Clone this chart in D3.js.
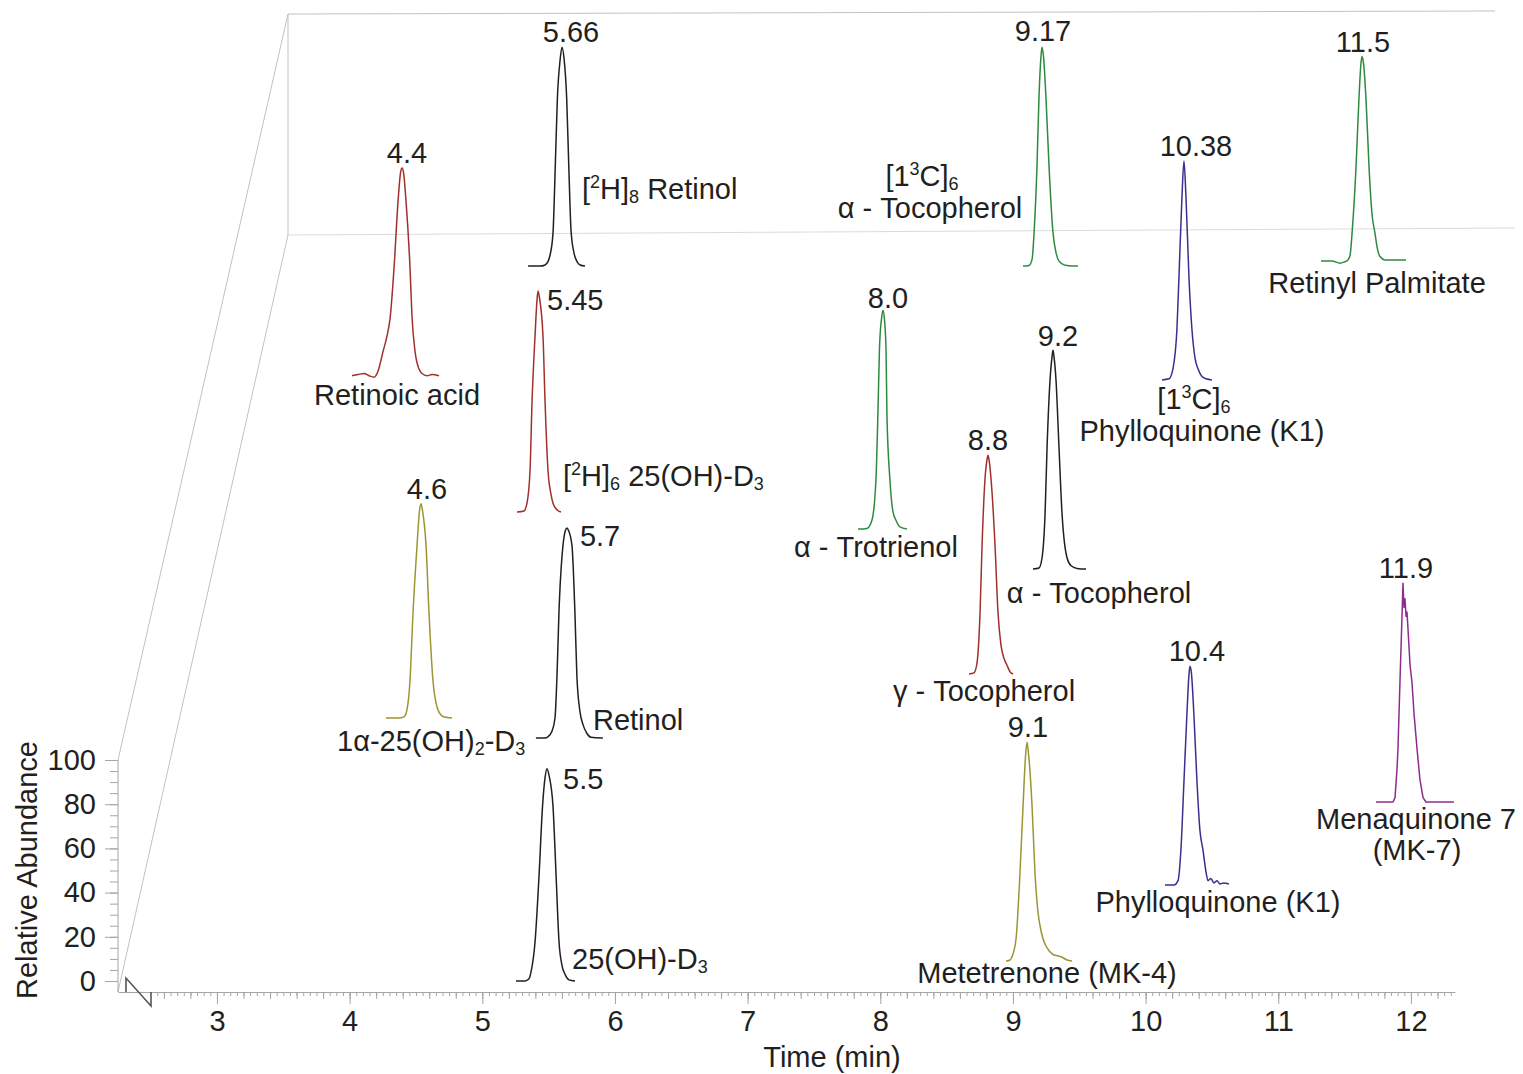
<!DOCTYPE html>
<html>
<head>
<meta charset="utf-8">
<script src="https://cdn.jsdelivr.net/npm/d3@7"></script>
<style>
  body { margin: 0; background: #fff; }
  svg { display: block; font-family: "Liberation Sans", Arial, sans-serif; }
</style>
</head>
<body>
<svg id="chart" width="1523" height="1074"></svg>
<script>
// compound names, ^x = superscript char, _x = subscript char
const compoundNames = [
    ["[^2H]_8 Retinol"],
    ["Retinoic acid"],
    ["[1^3C]_6", "α - Tocopherol"],
    ["[1^3C]_6", "Phylloquinone (K1)"],
    ["Retinyl Palmitate"],
    ["[^2H]_6 25(OH)-D_3"],
    ["1α-25(OH)_2-D_3"],
    ["Retinol"],
    ["25(OH)-D_3"],
    ["α - Trotrienol"],
    ["α - Tocopherol"],
    ["γ - Tocopherol"],
    ["Metetrenone (MK-4)"],
    ["Phylloquinone (K1)"],
    ["Menaquinone 7", "(MK-7)"]
];

const retentionLabels = ["5.66", "4.4", "9.17", "10.38", "11.5", "5.45", "4.6", "5.7",
    "5.5", "8.0", "9.2", "8.8", "9.1", "10.4", "11.9"];

// time on the axis where each trace apex is drawn
const traceTimes = [5.601, 4.395, 9.219, 10.289, 11.631, 5.420, 4.538, 5.638,
    5.488, 8.020, 9.302, 8.812, 9.106, 10.334, 11.940];

// stacking offset of each trace baseline (abundance units)
const baselineOffsets = [323.5, 272.9, 323.5, 272.0, 325.3, 212.2, 119.0, 110.0,
    0, 204.5, 186.4, 138.9, 9.0, 43.4, 81.0];

// peak profiles: [minutes from apex, relative abundance]
const peakProfiles = [
    [[-0.256, 0], [-0.166, 0], [-0.128, 0.5], [-0.106, 2], [-0.090, 5], [-0.068, 15], [-0.051, 45],
     [-0.035, 76], [-0.015, 93], [0, 99], [0.015, 94], [0.035, 76], [0.051, 45], [0.068, 16],
     [0.090, 6], [0.113, 2], [0.136, 0.5], [0.173, 0]],
    [[-0.377, 1], [-0.332, 1.5], [-0.286, 2], [-0.249, 1], [-0.211, 0.3], [-0.181, 3], [-0.143, 12],
     [-0.113, 19], [-0.090, 27], [-0.060, 50], [-0.030, 80], [-0.011, 93], [0, 95], [0.011, 93],
     [0.030, 80], [0.060, 50], [0.075, 28], [0.098, 12], [0.128, 4], [0.151, 2], [0.188, 1],
     [0.226, 1.5], [0.279, 1]],
    [[-0.143, 0], [-0.098, 0.3], [-0.075, 3], [-0.060, 15], [-0.038, 45], [-0.023, 76], [-0.0075, 95],
     [0, 99], [0.011, 95], [0.030, 76], [0.053, 45], [0.083, 15], [0.106, 6], [0.121, 3],
     [0.151, 1], [0.188, 0.3], [0.271, 0]],
    [[-0.166, 0], [-0.113, 0.5], [-0.083, 5], [-0.053, 23], [-0.038, 46], [-0.015, 83], [0, 99],
     [0.015, 83], [0.038, 46], [0.060, 23], [0.083, 10], [0.106, 5], [0.136, 1.5], [0.166, 0.5],
     [0.211, 0]],
    [[-0.309, 0.5], [-0.226, 0.5], [-0.166, -0.5], [-0.136, 0], [-0.106, 1], [-0.090, 3], [-0.075, 13],
     [-0.045, 43], [-0.023, 74], [-0.0075, 90], [0, 93], [0.011, 90], [0.030, 74], [0.053, 43],
     [0.075, 22], [0.098, 13], [0.113, 7], [0.136, 2.5], [0.173, 1], [0.226, 1], [0.332, 1]],
    [[-0.158, 0], [-0.106, 0.5], [-0.083, 4], [-0.060, 19], [-0.045, 50], [-0.023, 79], [-0.0075, 96],
     [0, 100], [0.011, 97], [0.038, 79], [0.053, 50], [0.075, 19], [0.098, 8], [0.113, 4],
     [0.143, 1], [0.173, 0]],
    [[-0.264, 0], [-0.166, 0], [-0.128, 0.5], [-0.113, 2], [-0.083, 17], [-0.060, 48], [-0.030, 78],
     [-0.011, 94], [0, 97], [0.011, 94], [0.038, 78], [0.060, 48], [0.090, 17], [0.121, 5],
     [0.158, 1], [0.188, 0.3], [0.234, 0]],
    [[-0.234, 0], [-0.166, 0], [-0.143, 0.5], [-0.113, 3], [-0.090, 9], [-0.075, 28], [-0.060, 57],
     [-0.030, 87], [-0.011, 94], [0, 95], [0.011, 94], [0.038, 87], [0.060, 57], [0.075, 28],
     [0.098, 12], [0.121, 6], [0.151, 2], [0.181, 0.3], [0.271, 0]],
    [[-0.234, 0], [-0.166, 0], [-0.136, 1], [-0.121, 4], [-0.090, 18], [-0.060, 48], [-0.034, 79],
     [-0.015, 92], [0, 96], [0.015, 93], [0.045, 79], [0.068, 48], [0.090, 18], [0.113, 7],
     [0.136, 3], [0.166, 0.5], [0.211, 0]],
    [[-0.188, 0], [-0.121, 0.3], [-0.083, 4], [-0.053, 22], [-0.038, 52], [-0.026, 82], [-0.011, 95],
     [0, 99], [0.011, 95], [0.023, 82], [0.030, 52], [0.053, 22], [0.075, 8], [0.098, 4],
     [0.128, 1], [0.181, 0]],
    [[-0.151, 0], [-0.106, 0.5], [-0.083, 5], [-0.060, 25], [-0.045, 55], [-0.023, 85], [-0.0075, 96],
     [0, 99], [0.0075, 96], [0.023, 85], [0.045, 55], [0.068, 25], [0.090, 10], [0.106, 5],
     [0.136, 1.5], [0.181, 0.3], [0.249, 0]],
    [[-0.143, 0], [-0.106, 0.5], [-0.083, 5], [-0.060, 28], [-0.045, 58], [-0.023, 88], [-0.0075, 97],
     [0, 99], [0.0075, 97], [0.023, 88], [0.053, 58], [0.075, 28], [0.098, 13], [0.121, 7],
     [0.143, 4], [0.166, 1], [0.188, 0]],
    [[-0.158, 0], [-0.128, 0.5], [-0.113, 2], [-0.083, 10], [-0.053, 40], [-0.030, 70], [-0.011, 93],
     [0, 99], [0.011, 94], [0.038, 70], [0.060, 40], [0.083, 22], [0.098, 16], [0.121, 10],
     [0.151, 6], [0.196, 3], [0.256, 2], [0.302, 0.5], [0.339, 0]],
    [[-0.188, 0], [-0.121, 0], [-0.090, 2], [-0.068, 16], [-0.045, 47], [-0.023, 77], [-0.0075, 95],
     [0, 99], [0.011, 96], [0.030, 77], [0.053, 47], [0.075, 25], [0.098, 16], [0.121, 6],
     [0.136, 2], [0.158, 3], [0.181, 1], [0.204, 2], [0.226, 0.5], [0.256, 1], [0.294, 0.5]],
    [[-0.204, 0], [-0.075, 0], [-0.060, 2], [-0.045, 15], [-0.038, 24], [-0.023, 54], [-0.0075, 84],
     [0, 99], [0.0075, 88], [0.015, 92], [0.023, 84], [0.030, 86], [0.038, 78], [0.053, 62],
     [0.068, 54], [0.083, 40], [0.106, 24], [0.128, 10], [0.151, 2], [0.173, 0], [0.384, 0]]
];

// ---- styles and layout (kept apart from the data) ----
const palette = {
    black: '#231f20',
    red: '#a0302c',
    green: '#2f8a40',
    indigo: '#3b2f8e',
    olive: '#9a9634',
    purple: '#8e2c8e'
};
const traceColors = ['black', 'red', 'green', 'indigo', 'green', 'red', 'olive', 'black',
    'black', 'green', 'black', 'red', 'olive', 'indigo', 'purple'];

// label offsets from apex in px: [dx, dy (to cap centre), anchor]
const labelLayout = [
    { num: [9, -15, 'middle'], names: [[20, 142, 'start']] },
    { num: [5, -15, 'middle'], names: [[-5, 227, 'middle']] },
    { num: [1, -16, 'middle'], names: [[-120, 129, 'middle'], [-112, 161, 'middle']] },
    { num: [12, -15, 'middle'], names: [[10, 238, 'middle'], [18, 270, 'middle']] },
    { num: [1, -15, 'middle'], names: [[15, 226, 'middle']] },
    { num: [9, 9, 'start'], names: [[25, 185, 'start']] },
    { num: [6, -15, 'middle'], names: [[-84, 237, 'start']] },
    { num: [13, 8, 'start'], names: [[26, 192, 'start']] },
    { num: [16, 10, 'start'], names: [[25, 190, 'start']] },
    { num: [5, -12, 'middle'], names: [[-7, 237, 'middle']] },
    { num: [5, -14, 'middle'], names: [[46, 243, 'middle']] },
    { num: [0, -15, 'middle'], names: [[-4, 236, 'middle']] },
    { num: [1, -15, 'middle'], names: [[20, 231, 'middle']] },
    { num: [7, -15, 'middle'], names: [[28, 236, 'middle']] },
    { num: [3, -15, 'middle'], names: [[13, 236, 'middle'], [14, 267, 'middle']] }
];

const fontSize = 29;
const capHalf = 10;
const textColor = '#231f20';

const xScale = d3.scaleLinear().domain([2.254, 12.332]).range([118, 1455]);
const yScale = d3.scaleLinear().domain([0, 100]).range([981, 760]);
const axisY = 992;
const depth = [170, -746];

const svg = d3.select('#chart');
svg.append('rect').attr('width', 1523).attr('height', 1074).attr('fill', '#fff');

// ---- 3D frame ----
const x0 = xScale.range()[0];
const backTop = [x0 + depth[0], yScale(100) + depth[1]];
const backFloor = [x0 + depth[0], yScale(0) + depth[1]];
const frame = svg.append('g')
    .attr('fill', 'none')
    .attr('stroke', '#c4c0c0')
    .attr('stroke-width', 1);
frame.append('path').attr('d', d3.line()([[x0, yScale(100)], backTop]));
frame.append('path').attr('d', d3.line()([[x0, axisY], backFloor]));
frame.append('path').attr('d', d3.line()([backTop, backFloor]));
frame.append('path').attr('d', d3.line()([backTop, [1495, backTop[1] - 3]]));
frame.append('path').attr('stroke', '#dedada')
    .attr('d', d3.line()([backFloor, [1515, backFloor[1] - 7]]));

// ---- axes ----
function styleAxis(g) {
    g.select('.domain').attr('stroke', '#a8a4a4');
    g.selectAll('.tick line').attr('stroke', '#a8a4a4');
    g.selectAll('.tick text')
        .attr('fill', textColor)
        .attr('font-size', fontSize)
        .attr('font-family', '"Liberation Sans", Arial, sans-serif');
}

const minorTimes = d3.range(51, 247).map(i => i * 0.05);
const mediumTimes = d3.range(13, 62).map(i => i * 0.2);
const majorTimes = d3.range(3, 13);

svg.append('g')
    .attr('transform', `translate(0,${axisY})`)
    .call(d3.axisBottom(xScale).tickValues(minorTimes).tickSize(4).tickSizeOuter(0).tickFormat(''))
    .call(styleAxis);
svg.append('g')
    .attr('transform', `translate(0,${axisY})`)
    .call(d3.axisBottom(xScale).tickValues(mediumTimes).tickSize(7).tickSizeOuter(0).tickFormat(''))
    .call(g => g.select('.domain').remove())
    .call(styleAxis);
svg.append('g')
    .attr('transform', `translate(0,${axisY})`)
    .call(d3.axisBottom(xScale).tickValues(majorTimes).tickSize(12).tickPadding(6).tickSizeOuter(0))
    .call(g => g.select('.domain').remove())
    .call(styleAxis);

svg.append('g')
    .attr('transform', `translate(${x0},0)`)
    .call(d3.axisLeft(yScale).tickValues(d3.range(0, 101, 5)).tickSize(8).tickFormat(''))
    .call(g => g.select('.domain').remove())
    .call(styleAxis);
svg.append('g')
    .attr('transform', `translate(${x0},0)`)
    .call(d3.axisLeft(yScale).tickValues(d3.range(0, 101, 20)).tickSize(13).tickPadding(9))
    .call(g => g.select('.domain').remove())
    .call(styleAxis);
svg.append('line')
    .attr('x1', x0).attr('x2', x0)
    .attr('y1', yScale(100)).attr('y2', axisY)
    .attr('stroke', '#a8a4a4');

// small depth marker at the origin
svg.append('path')
    .attr('fill', 'none')
    .attr('stroke', '#555')
    .attr('stroke-width', 1.6)
    .attr('d', d3.line()([[x0 + 8, axisY], [x0 + 8, axisY - 14], [x0 + 33, axisY + 14], [x0 + 33, axisY]]));

svg.append('text')
    .attr('x', 832).attr('y', 1067)
    .attr('text-anchor', 'middle')
    .attr('font-size', fontSize)
    .attr('fill', textColor)
    .text('Time (min)');
svg.append('text')
    .attr('transform', 'translate(37,870) rotate(-90)')
    .attr('text-anchor', 'middle')
    .attr('font-size', fontSize)
    .attr('fill', textColor)
    .text('Relative Abundance');

// ---- traces ----
function appendRich(text, str) {
    const parts = str.split(/([\^_].)/).filter(s => s.length);
    let shift = 0;
    parts.forEach(p => {
        const script = p[0] === '^' ? -11 : (p[0] === '_' ? 4 : 0);
        const span = text.append('tspan')
            .attr('dy', script - shift)
            .text(script ? p.slice(1) : p);
        if (script) span.attr('font-size', 18);
        shift = script;
    });
}

const traces = svg.append('g');
peakProfiles.forEach((profile, i) => {
    const line = d3.line()
        .x(d => xScale(traceTimes[i] + d[0]))
        .y(d => yScale(baselineOffsets[i] + d[1]))
        .curve(i === 14 ? d3.curveLinear : d3.curveMonotoneX);

    traces.append('path')
        .datum(profile)
        .attr('fill', 'none')
        .attr('stroke', palette[traceColors[i]])
        .attr('stroke-width', 1.5)
        .attr('stroke-linejoin', 'round')
        .attr('d', line);

    const apexX = xScale(traceTimes[i]);
    const apexY = yScale(baselineOffsets[i] + d3.max(profile, d => d[1]));
    const layout = labelLayout[i];

    traces.append('text')
        .attr('x', apexX + layout.num[0])
        .attr('y', apexY + layout.num[1] + capHalf)
        .attr('text-anchor', layout.num[2])
        .attr('font-size', fontSize)
        .attr('fill', textColor)
        .text(retentionLabels[i]);

    compoundNames[i].forEach((name, k) => {
        const pos = layout.names[k];
        const t = traces.append('text')
            .attr('x', apexX + pos[0])
            .attr('y', apexY + pos[1] + capHalf)
            .attr('text-anchor', pos[2])
            .attr('font-size', fontSize)
            .attr('fill', textColor);
        appendRich(t, name);
    });
});
</script>
</body>
</html>
